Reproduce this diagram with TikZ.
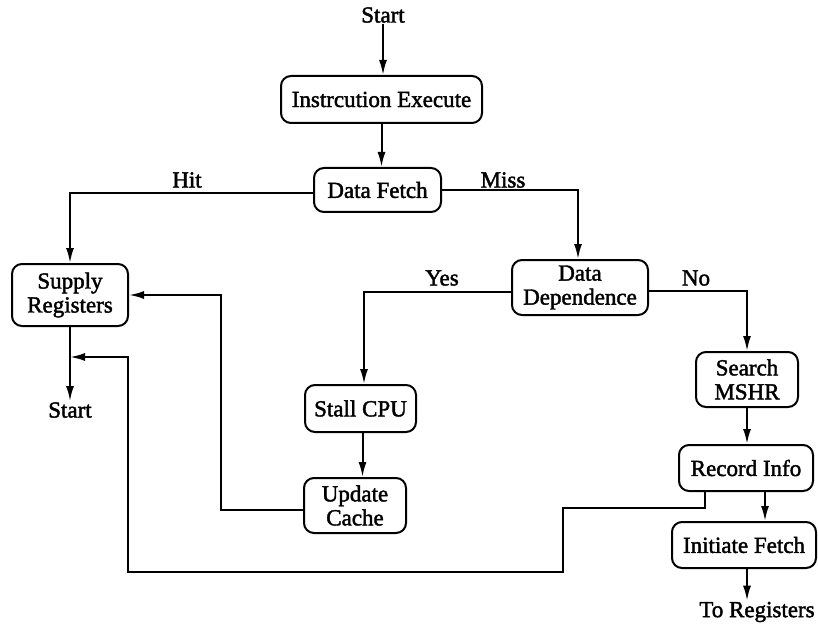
\documentclass[tikz,border=0pt]{standalone}
\usepackage{fontspec}
\setmainfont[FakeBold=1.8]{Liberation Serif}
\usetikzlibrary{arrows.meta}
\begin{document}
\begin{tikzpicture}[x=1pt,y=-1pt,
  every node/.style={font=\fontsize{23}{24}\selectfont},
  stepbox/.style={draw, line width=2pt, rounded corners=10pt, align=center,
    inner sep=0pt},
  lbl/.style={inner sep=1pt},
  link/.style={line width=2pt},
  arr/.style={link, -{Latex[length=15pt,width=8pt]}}]
\useasboundingbox (0,0) rectangle (818,628);

% process boxes
\node[stepbox, minimum width=201pt, minimum height=47pt] (exec)     at (381.5,99.5) {Instrcution Execute};
\node[stepbox, minimum width=127pt, minimum height=44pt] (fetch)    at (377.5,190)  {Data Fetch};
\node[stepbox, minimum width=116pt, minimum height=62pt] (supply)   at (70,295)     {Supply\\Registers};
\node[stepbox, minimum width=136pt, minimum height=55pt] (dep)      at (580,287.5)  {Data\\Dependence};
\node[stepbox, minimum width=111pt, minimum height=47pt] (stall)    at (360.5,408.5){Stall CPU};
\node[stepbox, minimum width=102pt, minimum height=55pt] (update)   at (355,505.5)  {Update\\Cache};
\node[stepbox, minimum width=102pt, minimum height=55pt] (search)   at (747,379.5)  {Search\\MSHR};
\node[stepbox, minimum width=134pt, minimum height=46pt] (record)   at (746,468)    {Record Info};
\node[stepbox, minimum width=144pt, minimum height=46pt] (initiate) at (744,545)    {Initiate Fetch};

% terminal texts
\node[lbl] (start)  at (383,15)  {Start};
\node[lbl] (startB) at (70,410)  {Start};
\node[lbl] (toreg)  at (757,612) {To Registers};

% branch labels
\node[lbl] (hit)  at (187,180) {Hit};
\node[lbl] (miss) at (503,180) {Miss};
\node[lbl] (yes)  at (442,278) {Yes};
\node[lbl] (no)   at (696,278) {No};

% bend points
\coordinate (kneeA) at (221,295);
\coordinate (join)  at (70,357);

% main flow (y grows downwards, so a negative yshift moves down)
\draw[arr] (start.south) -- (start.south |- exec.north);
\draw[arr] (exec.south) -- (exec.south |- fetch.north);
\draw[arr] ([yshift=-3pt]fetch.west) -| (supply.north);
\draw[arr] (fetch.east) -| ([xshift=-2pt]dep.north);
\draw[arr] ([yshift=-4pt]dep.west) -| ([xshift=3.5pt]stall.north);
\draw[arr] ([yshift=-3.5pt]dep.east) -| (search.north);
\draw[arr] ([xshift=2pt]stall.south) -- ([xshift=2pt]stall.south |- update.north);
\draw[arr] (search.south) -- (search.south |- record.north);
\draw[arr] ([xshift=19pt]record.south) -- ([xshift=19pt]record.south |- initiate.north);
\draw[arr] ([xshift=3pt]initiate.south) -- ([xshift=3pt]initiate.south |- toreg.north);

% returns to the register supply
\draw[arr] ([yshift=-4pt]update.west) -| (kneeA) -- (supply.east);
\draw[arr] (supply.south) -- (startB.north);
\draw[arr] ([xshift=-41pt]record.south) |- (563,508) |- (128,572) |- (join);
\end{tikzpicture}
\end{document}
